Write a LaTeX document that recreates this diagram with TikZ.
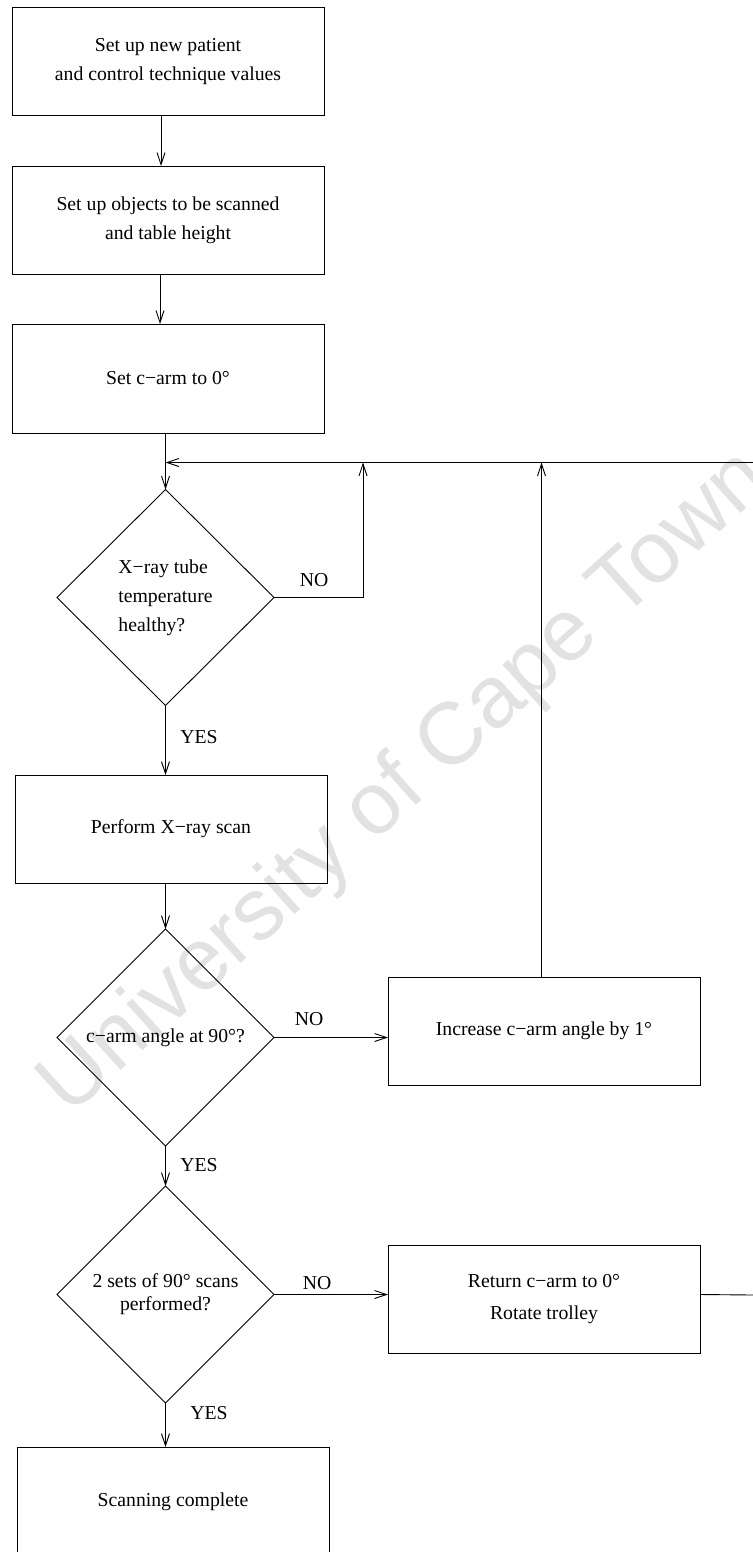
\documentclass[tikz,border=0pt]{standalone}
\usepackage{fontspec}
\setmainfont{Liberation Serif}
\newfontfamily\wmfont{Liberation Sans}
\usetikzlibrary{shapes.geometric,arrows.meta}
\definecolor{wmgray}{gray}{0.885}
\begin{document}
\begin{tikzpicture}[x=1bp,y=-1bp,
  every node/.style={inner sep=0pt, outer sep=0pt},
  txt/.style={font=\fontsize{19.8}{29}\selectfont},
  box/.style={draw, line width=0.9bp, minimum width=312bp, minimum height=108bp, align=center, txt},
  decision/.style={draw, diamond, line width=0.9bp, minimum width=217bp, minimum height=216bp, inner sep=1bp, align=center, txt},
  flow/.style={line width=0.9bp, -{Straight Barb[length=12bp,width=8bp]}},
  plain/.style={line width=0.9bp},
  lbl/.style={txt}]
\useasboundingbox (0,0) rectangle (753,1552);
\fill[white] (0,0) rectangle (753,1552);

% watermark behind the chart
\node[rotate=42, text=wmgray, font=\wmfont\fontsize{88}{88}\selectfont] (wm) at (406,784) {University of Cape Town};

% process steps and decisions
\node[box] (b1) at (168,61.5) {Set up new patient\\and control technique values};
\node[box] (b2) at (168,220) {Set up objects to be scanned\\and table height};
\node[box, minimum height=109bp] (b3) at (168,378.5) {Set c−arm to 0°};
\node[decision, align=left] (d1) at (165.5,597.5) {X−ray tube\\temperature\\healthy?};
\node[box] (b4) at (171,829) {Perform X−ray scan};
\node[decision, minimum height=217bp] (d2) at (165.5,1037.5) {c−arm angle at 90°?};
\node[box] (b5) at (544,1031) {Increase c−arm angle by 1°};
\node[decision, minimum height=217bp] (d3) at (165.5,1294.5) {2 sets of 90° scans\\[-6bp]performed?};
\node[box] (b6) at (544,1299) {Return c−arm to 0°\\[4bp]Rotate trolley};
\node[box, minimum height=109bp] (b7) at (173,1501.5) {Scanning complete};

% junctions of the return line
\coordinate (j0) at (165.5,462.5);
\coordinate (j1) at (363,462.5);
\coordinate (j2) at (541.5,462.5);
\coordinate (edgeT) at (753,462.5);
\coordinate (edgeB) at (753,1295);

% connectors
\draw[flow] ([xshift=-7bp]b1.south) -- ([xshift=-7bp]b1.south |- b2.north);
\draw[flow] ([xshift=-8bp]b2.south) -- ([xshift=-8bp]b2.south |- b3.north);
\draw[flow] (b3.south -| d1.north) -- (d1.north);
\draw[flow] (edgeT) -- (j0);
\draw[flow] (d1.east) -- (d1.east -| j1) -- (j1);
\draw[flow] (d1.south) -- (d1.south |- b4.north);
\draw[flow] (b4.south -| d2.north) -- (d2.north);
\draw[flow] (d2.east) -- (d2.east -| b5.west);
\draw[flow] (b5.north -| j2) -- (j2);
\draw[flow] (d2.south) -- (d3.north);
\draw[flow] (d3.east) -- (d3.east -| b6.west);
\draw[plain] (d3.east -| b6.east) -- (edgeB);
\draw[flow] (d3.south) -- (d3.south |- b7.north);

% branch labels
\node[lbl] (no1) at (314,580) {NO};
\node[lbl] (yes1) at (199,737) {YES};
\node[lbl] (no2) at (309,1019) {NO};
\node[lbl] (yes2) at (199,1165) {YES};
\node[lbl] (no3) at (317,1283) {NO};
\node[lbl] (yes3) at (209,1413) {YES};
\end{tikzpicture}
\end{document}
